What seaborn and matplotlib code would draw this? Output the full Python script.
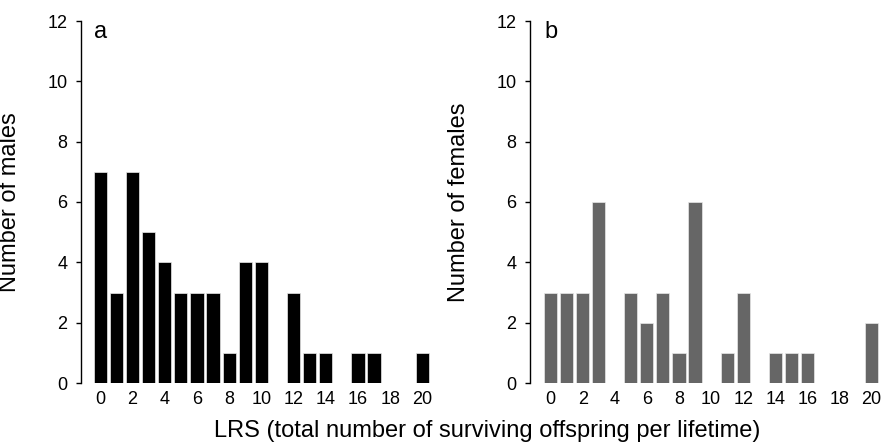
import matplotlib
matplotlib.use("Agg")
import matplotlib.pyplot as plt
import seaborn as sns
import pandas as pd

# Lifetime reproductive success (surviving offspring per lifetime)
lrs = list(range(21))
males = [7, 3, 7, 5, 4, 3, 3, 3, 1, 4, 4, 0, 3, 1, 1, 0, 1, 1, 0, 0, 1]
females = [3, 3, 3, 6, 0, 3, 2, 3, 1, 6, 0, 1, 3, 0, 1, 1, 1, 0, 0, 0, 2]
x_ticks = list(range(0, 21, 2))
y_ticks = list(range(0, 13, 2))

sns.set_theme(style="white")
plt.rcParams["font.family"] = ["Liberation Sans", "DejaVu Sans"]

fig = plt.figure(figsize=(8.82, 4.42), dpi=100)
W, H = 882.0, 442.0
ax_a = fig.add_axes([81 / W, 59 / H, (432 - 81) / W, 362 / H])
ax_b = fig.add_axes([530 / W, 59 / H, (882 - 530) / W, 362 / H])

panels = [
    (ax_a, males, "#000000", "Number of males", "a", (-1.2, 20.6)),
    (ax_b, females, "#666666", "Number of females", "b", (-1.28, 20.65)),
]

for ax, counts, color, ylabel, tag, xlim in panels:
    df = pd.DataFrame({"lrs": lrs, "n": counts})
    sns.barplot(data=df, x="lrs", y="n", native_scale=True, width=0.82,
                color=color, edgecolor="#e8e8e8", linewidth=0.5,
                saturation=1, ax=ax)
    ax.set_xlim(*xlim)
    ax.set_ylim(0, 12)
    ax.set_xticks(x_ticks)
    ax.set_yticks(y_ticks)
    ax.set_xticklabels([str(t) for t in x_ticks])
    ax.set_yticklabels([str(t) for t in y_ticks])
    for side in ("top", "right", "bottom"):
        ax.spines[side].set_visible(False)
    ax.spines["left"].set_color("black")
    ax.spines["left"].set_linewidth(1.0)
    ax.tick_params(axis="y", which="major", direction="out", length=3.8,
                   width=1.0, color="black", pad=6, labelsize=13,
                   left=True, labelcolor="black")
    ax.tick_params(axis="x", length=0, pad=6, labelsize=13,
                   labelcolor="black")
    ax.set_xlabel("")
    ax.set_ylabel(ylabel, fontsize=17, color="black")
    ax.yaxis.set_label_coords(-0.17, 0.5)
    ax.text(0, 11.44, tag, ha="center", va="baseline", fontsize=17,
            color="black")
    ax.set_facecolor("white")

fig.text(487 / W, 5 / H,
         "LRS (total number of surviving offspring per lifetime)",
         ha="center", va="baseline", fontsize=17, color="black")

fig.savefig("out.png", dpi=100, facecolor="white")
